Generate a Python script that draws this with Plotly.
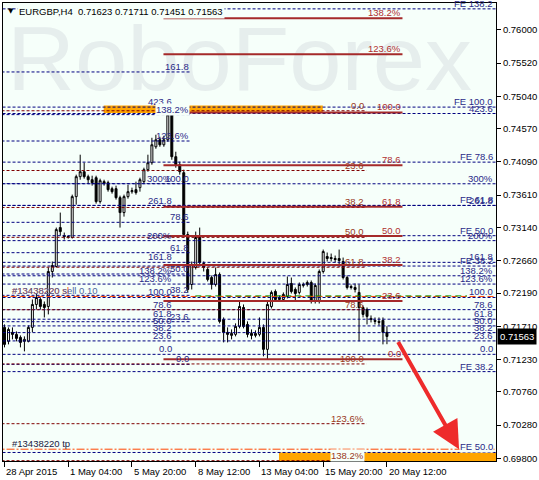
import base64
import plotly.graph_objects as go

FONT = "Liberation Sans, Arial, sans-serif"

symbol = "EURGBP"
timeframe = "H4"

# ---------------- data ----------------
bar_index_ticks = [0, 16, 32, 48, 64, 80, 96]
time_labels = ["28 Apr 2015", "1 May 04:00", "5 May 20:00", "8 May 12:00",
               "13 May 04:00", "15 May 20:00", "20 May 12:00"]
price_ticks = [0.76000, 0.75520, 0.75040, 0.74570, 0.74090, 0.73610, 0.73140,
               0.72660, 0.72190, 0.71710, 0.71230, 0.70760, 0.70280, 0.69800]

opens = [0.71694, 0.71492, 0.71622, 0.71593, 0.71549, 0.71492, 0.71492, 0.71694, 0.72026, 0.72098,
         0.72026, 0.71997, 0.72503, 0.72575, 0.73139, 0.73024, 0.72995, 0.72995, 0.73587, 0.73876,
         0.73948, 0.73876, 0.73832, 0.73861, 0.73515, 0.73804, 0.73789, 0.73702, 0.73702, 0.73572,
         0.73356, 0.73587, 0.73659, 0.73688, 0.73717, 0.73804, 0.73977, 0.74078, 0.74309, 0.74410,
         0.74338, 0.74410, 0.74772, 0.74165, 0.74049, 0.73934, 0.73038, 0.72315, 0.72561, 0.72995,
         0.72619, 0.72532, 0.72416, 0.72315, 0.72460, 0.71809, 0.71622, 0.71578, 0.71593, 0.71708,
         0.71982, 0.71737, 0.71607, 0.71578, 0.71593, 0.71694, 0.71376, 0.71997, 0.72214, 0.72098,
         0.72098, 0.72142, 0.72330, 0.72243, 0.72200, 0.72301, 0.72315, 0.72344, 0.72069, 0.72069,
         0.72503, 0.72720, 0.72705, 0.72691, 0.72691, 0.72648, 0.72416, 0.72286, 0.72272, 0.72200,
         0.71982, 0.71954, 0.71824, 0.71795, 0.71781, 0.71795, 0.71623]
highs = [0.71737, 0.71694, 0.71694, 0.71636, 0.71578, 0.71564, 0.71723, 0.72098, 0.72185, 0.72127,
         0.72069, 0.72561, 0.72648, 0.73139, 0.73356, 0.73067, 0.73024, 0.73616, 0.73905, 0.74194,
         0.74078, 0.73905, 0.73890, 0.73890, 0.73847, 0.73832, 0.73818, 0.73731, 0.73746, 0.73601,
         0.73616, 0.73760, 0.73717, 0.73804, 0.73861, 0.74006, 0.74194, 0.74439, 0.74483, 0.74454,
         0.74468, 0.74830, 0.74830, 0.74237, 0.74093, 0.73977, 0.73081, 0.72648, 0.73081, 0.73139,
         0.72648, 0.72561, 0.72445, 0.72561, 0.72489, 0.71838, 0.71694, 0.71665, 0.71752, 0.72069,
         0.72026, 0.71781, 0.71665, 0.71651, 0.71838, 0.71737, 0.72069, 0.72228, 0.72243, 0.72156,
         0.72200, 0.72431, 0.72416, 0.72272, 0.72344, 0.72344, 0.72373, 0.72373, 0.72330, 0.72532,
         0.72821, 0.72778, 0.72763, 0.72734, 0.72821, 0.72705, 0.72445, 0.72315, 0.72330, 0.72315,
         0.72011, 0.71982, 0.71867, 0.71838, 0.71838, 0.71838, 0.71711]
lows = [0.71405, 0.71448, 0.71521, 0.71492, 0.71405, 0.71347, 0.71477, 0.71622, 0.71954, 0.71954,
        0.71838, 0.71882, 0.72416, 0.72561, 0.73024, 0.72966, 0.72980, 0.72980, 0.73471, 0.73832,
        0.73847, 0.73775, 0.73746, 0.73486, 0.73486, 0.73746, 0.73659, 0.73630, 0.73544, 0.73139,
        0.73298, 0.73558, 0.73630, 0.73616, 0.73659, 0.73775, 0.73948, 0.74049, 0.74280, 0.74309,
        0.74309, 0.74381, 0.74121, 0.74006, 0.73905, 0.72995, 0.72200, 0.72243, 0.72532, 0.72590,
        0.72503, 0.72359, 0.72243, 0.72286, 0.71752, 0.71477, 0.71477, 0.71521, 0.71564, 0.71680,
        0.71680, 0.71549, 0.71521, 0.71549, 0.71564, 0.71275, 0.71232, 0.71968, 0.72069, 0.72069,
        0.72069, 0.72113, 0.72185, 0.72069, 0.72171, 0.72272, 0.72286, 0.72040, 0.72040, 0.72040,
        0.72474, 0.72648, 0.72648, 0.72633, 0.72575, 0.72388, 0.72243, 0.72243, 0.72200, 0.71492,
        0.71838, 0.71737, 0.71766, 0.71737, 0.71723, 0.71448, 0.71451]
closes = [0.71448, 0.71665, 0.71593, 0.71535, 0.71477, 0.71521, 0.71694, 0.72026, 0.72127, 0.71997,
          0.71982, 0.72503, 0.72590, 0.73110, 0.73081, 0.73009, 0.73009, 0.73587, 0.73876, 0.73948,
          0.73876, 0.73832, 0.73789, 0.73515, 0.73818, 0.73775, 0.73688, 0.73659, 0.73572, 0.73356,
          0.73587, 0.73659, 0.73674, 0.73645, 0.73832, 0.73977, 0.74078, 0.74338, 0.74410, 0.74338,
          0.74410, 0.74772, 0.74165, 0.74049, 0.73948, 0.73038, 0.72243, 0.72604, 0.72995, 0.72633,
          0.72561, 0.72388, 0.72315, 0.72460, 0.71781, 0.71622, 0.71593, 0.71607, 0.71708, 0.71997,
          0.71708, 0.71593, 0.71578, 0.71607, 0.71694, 0.71376, 0.72026, 0.72200, 0.72098, 0.72127,
          0.72171, 0.72315, 0.72214, 0.72185, 0.72315, 0.72315, 0.72344, 0.72069, 0.72301, 0.72503,
          0.72792, 0.72691, 0.72691, 0.72677, 0.72662, 0.72416, 0.72272, 0.72272, 0.72243, 0.71982,
          0.71882, 0.71853, 0.71809, 0.71781, 0.71766, 0.71622, 0.71563]

# Fibonacci objects: price at 0 % and price at 100 %
ret_levels = [0.0, 23.6, 38.2, 50.0, 61.8, 78.6, 100.0, 123.6, 138.2]
ret_texts = ["0.0", "23.6", "38.2", "50.0", "61.8", "78.6", "100.0", "123.6%", "138.2%"]
ext_levels = ret_levels + [161.8, 200.0, 261.8, 300.0, 423.6]
ext_texts = ret_texts + ["161.8", "200%", "261.8", "300%", "423.6"]
left_levels = ret_levels + [161.8]
left_texts = ret_texts + ["161.8"]

fibo_solid = (0.71232, 0.74805)
fibo_solid_bars = (39.9, 99.9)
fibo_dash = (0.74830, 0.71165)
fibo_dash_bars = (-2.0, 90.9)
fibo_grid = (0.71304, 0.72127)
fibo_grid_label_bars = (42.4, 122.9)
fibo_left = (0.71159, 0.73775)
fibo_left_bars = (-2.0, 46.6)
fe_up = (0.71160, 0.74883)
fe_up_levels = [38.2, 50.0, 61.8, 78.6, 100.0, 138.2]
fe_down = (0.74843, 0.64924)
fe_down_levels = [38.2, 50.0]

order_id = "#13438220"
order_lots = 0.10
open_price = 0.72150
open_bars = (47.9, 116.1)
sl_price = 0.72142
tp_price = 0.69931

zone_top = dict(bars=(24.9, 79.9), prices=(0.74798, 0.74905))
zone_bottom = dict(bars=(68.9, 130.0), prices=(0.69600, None))  # top = FE 50.0 level

arrow_from = (98.6, 0.71506)
arrow_to = (114.1, 0.69931)

watermark_text = "RoboForex"

# ---------------- helpers ----------------
def lvl(obj, level):
    p0, p100 = obj
    return p0 + (p100 - p0) * level / 100.0

FULL = (-3.0, 130.0)
NAVY = "#000080"
NAVY_TXT = "#2A2A88"
RED_SOLID = "#A52A2A"
RED_SOLID_TXT = "#B03030"
RED_DASH = "#800000"
RED_DASH_TXT = "#9A3A22"
BG = "#F6FFFA"
FS = 9.5

fig = go.Figure()


def add_lines(prices, bars, color, dash, width):
    xs, ys = [], []
    for p in prices:
        xs += [bars[0], bars[1], None]
        ys += [p, p, None]
    fig.add_trace(go.Scatter(x=xs, y=ys, mode="lines",
                             line=dict(color=color, dash=dash, width=width),
                             hoverinfo="skip", showlegend=False))


def add_label(text, x, y, color, bg=None, anchor="right"):
    fig.add_annotation(x=x, y=y, xref="x", yref="y", text=text, showarrow=False,
                       xanchor=anchor, yanchor="bottom", yshift=-1,
                       font=dict(family=FONT, size=FS, color=color),
                       bgcolor=bg if bg else "rgba(0,0,0,0)", borderpad=0)

fe_down_50 = lvl(fe_down, 50.0)

# zones
fig.add_shape(type="rect", xref="x", yref="y", layer="below",
              x0=zone_top["bars"][0], x1=zone_top["bars"][1],
              y0=zone_top["prices"][0], y1=zone_top["prices"][1],
              fillcolor="#FFA500", line=dict(width=0))
fig.add_shape(type="rect", xref="x", yref="y", layer="below",
              x0=zone_bottom["bars"][0], x1=zone_bottom["bars"][1],
              y0=zone_bottom["prices"][0], y1=fe_down_50,
              fillcolor="#FFA500", line=dict(width=0))

# lines
add_lines([lvl(fibo_grid, l) for l in ext_levels], FULL, NAVY, "3px,2px", 1)
add_lines([lvl(fe_up, l) for l in fe_up_levels], FULL, NAVY, "3px,2px", 1)
add_lines([lvl(fe_down, l) for l in fe_down_levels], FULL, NAVY, "3px,2px", 1)
add_lines([lvl(fibo_left, l) for l in left_levels], fibo_left_bars, NAVY, "3px,2px", 1)
add_lines([lvl(fibo_dash, l) for l in ret_levels], fibo_dash_bars, RED_DASH, "3px,2px", 1)
add_lines([sl_price], FULL, "#FF4500", "6px,3px", 1)
add_lines([tp_price], FULL, "#FF4500", "8px,2px,2px,2px", 1)
add_lines([open_price], open_bars, "#009000", "6px,4px", 1)
add_lines([lvl(fibo_solid, l) for l in ret_levels], fibo_solid_bars, RED_SOLID, "solid", 2)

# candles
fig.add_trace(go.Candlestick(
    x=list(range(len(opens))), open=opens, high=highs, low=lows, close=closes,
    increasing=dict(line=dict(color="black", width=1), fillcolor="white"),
    decreasing=dict(line=dict(color="black", width=1), fillcolor="black"),
    whiskerwidth=0, hoverinfo="skip", showlegend=False))

# labels
for l, t in zip(ret_levels, ret_texts):
    add_label(t, fibo_dash_bars[1] - 0.4, lvl(fibo_dash, l), RED_DASH_TXT,
              bg=BG if t == "138.2%" else None)
for l, t in zip(ret_levels, ret_texts):
    add_label(t, fibo_solid_bars[1], lvl(fibo_solid, l), RED_SOLID_TXT)
for l, t in zip(ext_levels, ext_texts):
    add_label(t, fibo_grid_label_bars[1], lvl(fibo_grid, l), NAVY_TXT)
for l, t in zip(ext_levels[:-1], ext_texts[:-1]):
    add_label(t, fibo_grid_label_bars[0], lvl(fibo_grid, l), NAVY_TXT)
add_label(ext_texts[-1], fibo_grid_label_bars[0], lvl(fe_up, 100.0), NAVY_TXT)
for l, t in zip(left_levels, left_texts):
    add_label(t, fibo_left_bars[1], lvl(fibo_left, l), NAVY_TXT,
              bg=BG if t == "138.2%" else None)
for l in fe_up_levels:
    add_label(f"FE {l:.1f}", fibo_grid_label_bars[1], lvl(fe_up, l), NAVY_TXT)
for l in fe_down_levels:
    add_label(f"FE {l:.1f}", fibo_grid_label_bars[1], lvl(fe_down, l), NAVY_TXT,
              bg=BG if l == 50.0 else None)

add_label(f"{order_id} sl", 1.6, sl_price, "#FF4500", anchor="left")
add_label(f"{order_id} sell {order_lots:.2f}", 1.6, sl_price, "#5068A0", anchor="left")
add_label(f"{order_id} tp", 1.6, tp_price, "#202040", anchor="left")

# arrow
fig.add_annotation(x=arrow_to[0], y=arrow_to[1], ax=arrow_from[0], ay=arrow_from[1],
                   xref="x", yref="y", axref="x", ayref="y", text="",
                   showarrow=True, arrowhead=2, arrowsize=1.4, arrowwidth=4,
                   arrowcolor="#EE2B2B", standoff=0)

# header
header = f"{symbol},{timeframe}  {opens[-1]:.5f} {highs[-1]:.5f} {lows[-1]:.5f} {closes[-1]:.5f}"
fig.add_annotation(x=0, y=1, xref="paper", yref="paper", xanchor="left", yanchor="top",
                   xshift=14, yshift=-1, text=header, showarrow=False, bgcolor=BG,
                   borderpad=1, font=dict(family=FONT, size=FS, color="black"))
fig.add_annotation(x=0, y=1, xref="paper", yref="paper", xanchor="left", yanchor="top",
                   xshift=3, yshift=-2, text="▼", showarrow=False,
                   font=dict(family="DejaVu Sans", size=7, color="black"))

# time labels
for i, t in zip(bar_index_ticks, time_labels):
    fig.add_annotation(x=i, y=0, xref="x", yref="paper", xanchor="left", yanchor="top",
                       xshift=0, yshift=-3, text=t, showarrow=False,
                       font=dict(family=FONT, size=FS, color="black"))

# last price box
fig.add_annotation(x=1, y=closes[-1], xref="paper", yref="y", xanchor="left", yanchor="middle",
                   xshift=1, text=f"{closes[-1]:.5f}", showarrow=False, bgcolor="black",
                   borderpad=2, font=dict(family=FONT, size=FS, color="white"))

# watermark
svg = ('<svg xmlns="http://www.w3.org/2000/svg" width="495" height="458" viewBox="0 0 495 458">'
       f'<text x="4" y="87" font-family="Liberation Sans, Arial, sans-serif" font-size="91" '
       f'textLength="467" lengthAdjust="spacingAndGlyphs" fill="#E6EEED">{watermark_text}</text></svg>')
src = "data:image/svg+xml;base64," + base64.b64encode(svg.encode("utf-8")).decode("ascii")
fig.add_layout_image(source=src, xref="paper", yref="paper", x=0, y=1, sizex=1, sizey=1,
                     sizing="stretch", layer="below", xanchor="left", yanchor="top")

fig.update_layout(width=539, height=480, margin=dict(l=2, r=42, t=3, b=19, pad=0),
                  paper_bgcolor="white", plot_bgcolor=BG, showlegend=False,
                  font=dict(family=FONT, size=FS, color="black"))
fig.update_xaxes(range=[-0.375, 123.375], showgrid=False, zeroline=False, showline=True,
                 mirror=True, linecolor="black", linewidth=1, ticks="outside", ticklen=5,
                 tickcolor="black", tickvals=bar_index_ticks, showticklabels=False,
                 rangeslider=dict(visible=False), fixedrange=True)
fig.update_yaxes(range=[0.69760, 0.76390], side="right", showgrid=False, zeroline=False,
                 showline=True, mirror=True, linecolor="black", linewidth=1, ticks="outside",
                 ticklen=4, tickcolor="black", tickvals=price_ticks,
                 ticktext=[f"{v:.5f}" for v in price_ticks],
                 tickfont=dict(family=FONT, size=FS, color="black"), fixedrange=True)

fig.write_html("out.html", config={"displayModeBar": False},
               post_script="document.body.style.margin='0px';")
